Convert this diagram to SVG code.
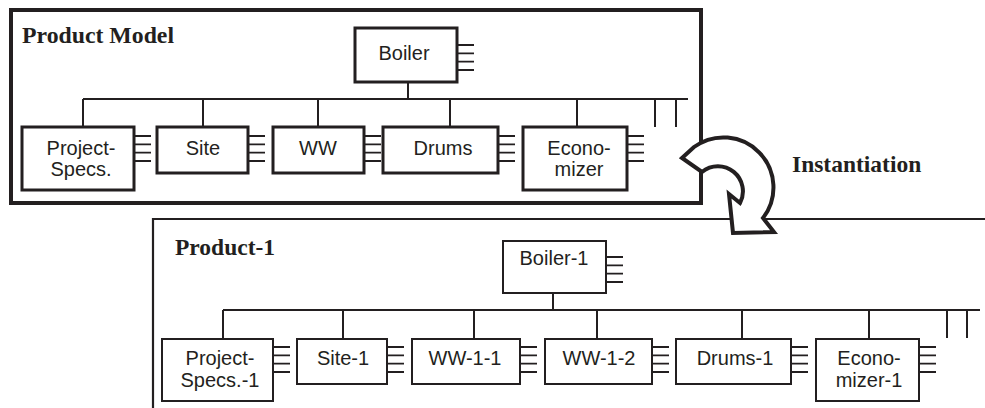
<svg xmlns="http://www.w3.org/2000/svg" width="985" height="408" viewBox="0 0 985 408">
<style>
.frame{fill:none;stroke:#231f20}
.b1{fill:#fff;stroke:#231f20;stroke-width:3}
.b2{fill:#fff;stroke:#231f20;stroke-width:2}
.conn{fill:none;stroke:#231f20;stroke-width:2}
.comb{fill:none;stroke:#231f20;stroke-width:1.8}
.lbl{font-family:"Liberation Sans",Arial,sans-serif;font-size:20px;fill:#231f20;text-anchor:middle}
.title{font-family:"Liberation Serif","Times New Roman",serif;font-size:23.5px;font-weight:bold;fill:#231f20}
</style>
<defs>
<path id="comb" class="comb" d="M0,0h17M0,8.3h17M0,16.6h17M0,25h17"/>
</defs>
<rect id="product-model-frame" class="frame" x="11" y="10" width="690" height="193" stroke-width="4"/>
<text class="title" x="22" y="43" textLength="152" lengthAdjust="spacingAndGlyphs">Product Model</text>
<path id="product-1-frame" class="frame" d="M153,408V219H985" stroke-width="2.2"/>
<text class="title" x="175" y="255">Product-1</text>
<g id="connectors">
<path class="conn" d="M408,82V99M83,99H688M83,99V127M203,99V127M318,99V127M450,99V127M577,99V127M655,99V127M676,99V127"/>
<path class="conn" d="M553,293V310M223,310H980M223,310V339M343,310V339M474,310V339M597,310V339M742,310V339M869,310V339M947,310V338M967,310V338"/>
</g>
<g id="boiler"><rect class="b1" x="355" y="28" width="102" height="54"/><use href="#comb" x="457" y="45"/><text class="lbl" x="404" y="60">Boiler</text></g>
<g id="project-specs"><rect class="b1" x="22" y="127" width="112" height="63"/><use href="#comb" x="134" y="136"/><text class="lbl" x="81" y="155">Project-</text><text class="lbl" x="81" y="176">Specs.</text></g>
<g id="site"><rect class="b1" x="157" y="127" width="91" height="46"/><use href="#comb" x="248" y="136"/><text class="lbl" x="203" y="155">Site</text></g>
<g id="ww"><rect class="b1" x="273" y="127" width="91" height="46"/><use href="#comb" x="364" y="136"/><text class="lbl" x="318" y="155">WW</text></g>
<g id="drums"><rect class="b1" x="383" y="127" width="115" height="46"/><use href="#comb" x="498" y="136"/><text class="lbl" x="443" y="155">Drums</text></g>
<g id="economizer"><rect class="b1" x="523" y="127" width="104" height="63"/><use href="#comb" x="627" y="136"/><text class="lbl" x="579" y="155">Econo-</text><text class="lbl" x="579" y="176">mizer</text></g>
<g id="boiler-1"><rect class="b2" x="503" y="241" width="103" height="52"/><use href="#comb" x="606" y="257"/><text class="lbl" x="554" y="265">Boiler-1</text></g>
<g id="project-specs-1"><rect class="b2" x="162" y="339" width="111" height="62"/><use href="#comb" x="273" y="347"/><text class="lbl" x="220" y="365">Project-</text><text class="lbl" x="220" y="387">Specs.-1</text></g>
<g id="site-1"><rect class="b2" x="297" y="339" width="90" height="45"/><use href="#comb" x="387" y="347"/><text class="lbl" x="343" y="365">Site-1</text></g>
<g id="ww-1-1"><rect class="b2" x="412" y="339" width="108" height="45"/><use href="#comb" x="520" y="347"/><text class="lbl" x="465" y="365">WW-1-1</text></g>
<g id="ww-1-2"><rect class="b2" x="545" y="339" width="107" height="45"/><use href="#comb" x="652" y="347"/><text class="lbl" x="599" y="365">WW-1-2</text></g>
<g id="drums-1"><rect class="b2" x="676" y="339" width="115" height="45"/><use href="#comb" x="791" y="347"/><text class="lbl" x="735" y="365">Drums-1</text></g>
<g id="economizer-1"><rect class="b2" x="816" y="339" width="103" height="62"/><use href="#comb" x="919" y="347"/><text class="lbl" x="869" y="365">Econo-</text><text class="lbl" x="869" y="387">mizer-1</text></g>
<g id="instantiation">
<path d="M682,158L694,147A50,50 0 0 1 763,218L774,232L733,233L729,194L740,203A25,25 0 0 0 702,172Z" fill="#fff" stroke="#231f20" stroke-width="4" stroke-linejoin="miter"/>
<text class="title" x="792" y="172" font-size="21.5px">Instantiation</text>
</g>
</svg>
